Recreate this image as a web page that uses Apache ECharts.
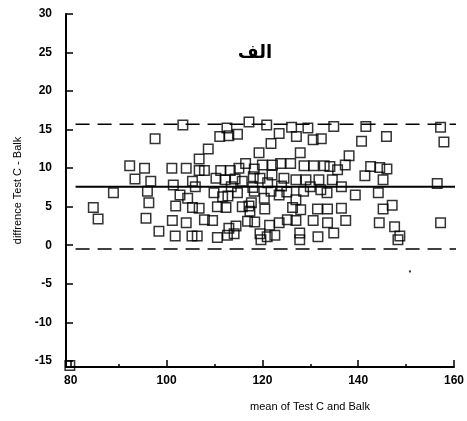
<!DOCTYPE html>
<html>
<head>
<meta charset="utf-8">
<script src="https://cdn.jsdelivr.net/npm/echarts@6/dist/echarts.min.js"></script>
<style>html,body{margin:0;padding:0;background:#fff}#c{width:467px;height:421px}</style>
</head>
<body>
<div id="c"></div>
<script>
const xTicks = [80, 100, 120, 140, 160];
const xMinorTicks = [90, 110, 130, 150];
const yTicks = [-15, -10, -5, 0, 5, 10, 15, 20, 25, 30];
const meanDiff = 7.6;
const upperLimit = 15.7;
const lowerLimit = -0.5;
const points = [
[79.8,-15.6],[84.7,4.9],[85.7,3.4],[88.9,6.8],[92.3,10.3],[93.4,8.6],[95.4,10.0],[95.7,3.5],[96.0,7.0],[96.3,5.5],
[96.7,8.3],[97.6,13.8],[98.4,1.8],[101.1,10.0],[101.2,3.2],[101.4,7.8],[101.8,1.2],[101.9,5.1],[102.8,6.5],[103.4,15.6],
[104.1,10.0],[104.1,2.9],[104.4,6.1],[105.3,1.2],[105.4,8.3],[105.4,4.9],[106.8,11.2],[106.4,1.2],[106.8,9.7],[106.8,4.8],
[107.9,9.7],[107.9,3.3],[108.7,12.5],[109.6,3.2],[109.9,6.8],[110.3,8.7],[110.6,5.0],[110.6,1.0],[111.1,14.1],[111.3,9.7],
[111.7,6.3],[112.2,8.5],[112.4,4.9],[113.0,14.2],[112.7,1.3],[113.0,2.2],[112.8,6.4],[112.6,15.2],[113.3,9.7],[114.1,1.5],
[114.5,2.5],[114.3,8.6],[114.8,14.4],[114.8,6.8],[115.1,10.0],[115.8,8.3],[115.8,5.0],[116.5,10.6],[116.9,3.1],[117.2,16.0],
[117.2,5.1],[117.4,4.4],[118.1,8.9],[118.3,7.0],[118.4,3.0],[117.7,5.5],[118.3,9.9],[119.3,12.0],[119.5,8.7],[119.5,1.5],
[119.7,0.7],[120.0,10.4],[120.4,6.1],[120.5,4.7],[120.9,15.6],[121.0,1.1],[121.1,8.1],[121.5,2.6],[121.8,13.2],[121.8,7.0],
[122.0,9.1],[122.1,10.4],[122.6,1.3],[123.5,14.5],[123.5,6.5],[123.5,2.9],[123.8,10.6],[124.5,8.7],[125.1,6.9],[125.2,3.3],
[125.9,10.6],[126.1,15.3],[126.3,4.9],[127.0,5.9],[127.0,3.2],[127.1,14.1],[127.0,8.5],[127.8,1.6],[127.8,0.7],[127.9,12.0],
[128.0,4.6],[128.6,7.0],[128.7,10.3],[129.1,8.5],[129.5,15.2],[130.6,13.7],[130.7,10.3],[130.6,3.2],[131.5,4.7],[131.6,1.1],
[131.8,8.5],[132.2,7.2],[132.3,13.8],[132.9,10.3],[133.6,4.7],[133.5,6.8],[133.6,2.9],[134.1,10.2],[134.6,8.5],[134.9,15.4],
[134.9,1.6],[135.7,9.8],[136.5,4.8],[137.3,10.4],[137.4,3.2],[138.1,11.6],[139.4,6.5],[140.7,13.5],[141.4,9.0],[141.6,15.4],
[142.6,10.2],[144.2,6.8],[144.4,2.9],[144.5,10.1],[145.2,8.5],[145.2,4.7],[145.9,14.1],[146.0,9.9],[147.1,5.2],[147.6,2.4],
[148.7,1.2],[148.3,0.7],[156.5,8.0],[157.2,15.3],[157.2,2.9],[157.9,13.4],
[106.0,7.6],[113.5,7.6],[118.0,7.5],[124.0,7.7],[130.0,7.6],[136.5,7.6]
];
const stray = [[150.8,-3.4]];
const lineX = [81, 161.5];

const chart = echarts.init(document.getElementById('c'), null, {renderer:'canvas'});
const font = 'Liberation Sans, Arial, sans-serif';
chart.setOption({
  animation:false,
  backgroundColor:'#fff',
  title:{text:'الف', left:250, top:39, textAlign:'center',
    textStyle:{fontFamily:'Noto Sans, DejaVu Sans, sans-serif', fontSize:18, fontWeight:'bold', color:'#000'}},
  grid:{left:66, right:13, top:14, bottom:54, containLabel:false},
  xAxis:[{type:'value', min:79, max:160,
    name:'mean of Test C and Balk', nameLocation:'middle', nameGap:34,
    nameTextStyle:{fontFamily:font, fontSize:11, color:'#000', padding:[0,0,0,100]},
    axisLine:{show:true, onZero:false, lineStyle:{color:'#000', width:2}},
    axisTick:{show:true, inside:true, length:7, customValues:xTicks, lineStyle:{color:'#000', width:1.5}},
    axisLabel:{customValues:xTicks, margin:8, fontFamily:font, fontSize:12, fontWeight:'bold', color:'#000'},
    splitLine:{show:false}},
   {type:'value', min:79, max:160, position:'bottom',
    axisLine:{show:false, onZero:false},
    axisTick:{show:true, inside:true, length:3, customValues:xMinorTicks, lineStyle:{color:'#000', width:1.5}},
    axisLabel:{show:false}, splitLine:{show:false}}],
  yAxis:{type:'value', min:-15.8, max:30,
    name:'diffrence Test C - Balk', nameLocation:'middle', nameGap:42,
    nameTextStyle:{fontFamily:font, fontSize:11, color:'#000'},
    axisLine:{show:true, onZero:false, lineStyle:{color:'#000', width:2}},
    axisTick:{show:true, inside:true, length:7, customValues:yTicks, lineStyle:{color:'#000', width:1.5}},
    axisLabel:{customValues:yTicks, margin:14, fontFamily:font, fontSize:12, fontWeight:'bold', color:'#000'},
    splitLine:{show:false}},
  series:[
    {type:'line', data:lineX.map(x=>[x,upperLimit]), symbol:'none', clip:false,
      lineStyle:{color:'#000', width:1.5, type:[14,8]}, z:1},
    {type:'line', data:lineX.map(x=>[x,lowerLimit]), symbol:'none', clip:false,
      lineStyle:{color:'#000', width:1.5, type:[14,8]}, z:1},
    {type:'line', data:lineX.map(x=>[x,meanDiff]), symbol:'none', clip:false,
      lineStyle:{color:'#000', width:2}, z:1},
    {type:'scatter', data:points, symbol:'rect', symbolSize:9.5, clip:false,
      itemStyle:{color:'rgba(0,0,0,0)', borderColor:'#000', borderWidth:1.5}, z:3},
    {type:'scatter', data:stray, symbol:'rect', symbolSize:2, itemStyle:{color:'#000'}, z:3}
  ]
});
</script>
</body>
</html>
